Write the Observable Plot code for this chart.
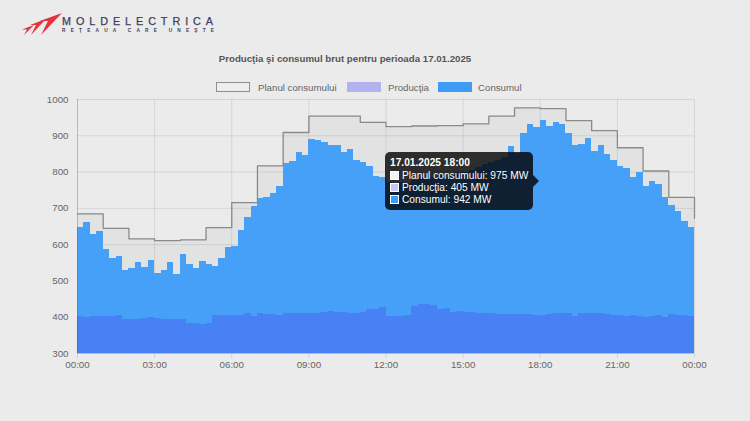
<!DOCTYPE html>
<html><head><meta charset="utf-8">
<script src="https://cdn.jsdelivr.net/npm/d3@7"></script>
<script src="https://cdn.jsdelivr.net/npm/@observablehq/plot@0.6"></script>
<style>
html,body{margin:0;padding:0}
body{background:#ebebeb;width:750px;height:421px;overflow:hidden;font-family:"Liberation Sans",Arial,Helvetica,sans-serif;position:relative}
#logo{position:absolute;left:0;top:0}
#title{position:absolute;left:0;width:690px;top:53px;text-align:center;font-weight:bold;font-size:9.7px;line-height:11px;color:#555}
.lg{position:absolute;top:82px;height:10px;box-sizing:border-box;width:34px}
.lt{position:absolute;top:82px;font-size:9.7px;line-height:11px;color:#666}
#chart{position:absolute;left:0;top:90px}
#tt{position:absolute;left:385px;top:152px;width:148px;height:58px;background:rgba(0,0,0,0.8);border-radius:5px;color:#fff;font-size:10.2px}
#tt .t{position:absolute;left:5px;top:4.5px;font-weight:bold;line-height:12px;white-space:nowrap}
#tt .r{position:absolute;left:17px;line-height:12px;white-space:nowrap}
#tt .b{position:absolute;left:5px;width:9px;height:9px;box-sizing:border-box;border:1px solid #fff}
#caret{position:absolute;left:533px;top:175px;width:0;height:0;border-top:6px solid transparent;border-bottom:6px solid transparent;border-left:6px solid rgba(0,0,0,0.8)}
</style>
</head><body>
<svg id="logo" width="250" height="45">
  <g fill="#e2323d">
    <polygon points="34,25 22,29.5 27,29.5 24,35"/>
    <polygon points="46,19 30,25 36,25 31,35"/>
    <polygon points="62,13 40,21 48,21 41,35"/>
  </g>
  <text x="62" y="25.3" font-size="10.8" fill="#3b3e5e" stroke="#3b3e5e" stroke-width="0.25" font-family="Liberation Sans, Arial" textLength="151" lengthAdjust="spacing">MOLDELECTRICA</text>
  <text x="62" y="31.8" font-size="4.8" font-weight="bold" fill="#3b3e5e" font-family="Liberation Sans, Arial" textLength="152" lengthAdjust="spacing">REŢEAUA CARE UNEŞTE</text>
</svg>
<div id="title"></div>
<div id="legend"></div>
<div id="chart"></div>
<div id="tt"></div>
<div id="caret"></div>
<script>
const titleText = "Producţia şi consumul brut pentru perioada 17.01.2025";
const seriesNames = ["Planul consumului", "Producţia", "Consumul"];
const hourLabels = ["00:00","03:00","06:00","09:00","12:00","15:00","18:00","21:00","00:00"];
const hourTicks = [0,3,6,9,12,15,18,21,24];
const yTicks = [300,400,500,600,700,800,900,1000];

// hourly consumption plan (MW), last value at 24:00
const planConsum = [685,645,616,611,613,647,716,817,909,954,954,937,925,927,928,933,954,977,975,942,914,867,803,730,673];

// 15-minute gross consumption (MW)
const consum = [
 648,662,628,636, 587,561,567,530, 535,551,537,556, 521,528,552,519,
 574,546,535,553, 544,541,561,593, 596,638,674,705, 728,729,741,760,
 824,828,853,847, 890,886,882,872, 874,853,863,831, 827,815,787,785,
 770,766,772,768, 776,782,779,786, 790,786,795,798, 800,805,812,820,
 826,832,840,871, 852,907,931,923, 942,926,937,930, 906,872,876,892,
 858,874,849,831, 815,810,784,799, 760,773,766,729, 707,691,663,648
];

// 15-minute production (MW)
const productie = [
 402,400,401,401, 402,403,404,395, 395,393,397,398, 397,395,393,395,
 393,384,382,379, 383,405,405,405, 406,405,409,403, 409,407,408,406,
 410,409,411,411, 410,411,413,416, 413,413,410,410, 414,420,422,427,
 402,402,402,406, 429,436,434,433, 420,423,413,415, 413,413,411,411,
 409,408,407,407, 408,407,407,405, 405,408,409,411, 409,403,411,411,
 409,411,408,406, 405,402,404,402, 398,402,405,400, 408,404,404,401
];

const colors = {plan:"#8a8a8a", planFill:"rgba(0,0,0,0.035)", prod:"#4781f4", prodLegend:"#b3b2f1", cons:"#47a0f7"};

document.getElementById("title").textContent = titleText;

// legend
const legend = document.getElementById("legend");
const lgItems = [
  {box:216, text:258, bg:"#eeeeee", bd:"#8e8e8e"},
  {box:347, text:388, bg:colors.prodLegend, bd:colors.prodLegend},
  {box:438, text:478, bg:"#3f9cf6", bd:"#3f9cf6"}
];
lgItems.forEach((it,i)=>{
  const b=document.createElement("div"); b.className="lg";
  b.style.left=it.box+"px"; b.style.background=it.bg; b.style.border="1px solid "+it.bd;
  legend.appendChild(b);
  const t=document.createElement("div"); t.className="lt"; t.style.left=it.text+"px"; t.textContent=seriesNames[i];
  legend.appendChild(t);
});

const planData = planConsum.map((v,i)=>({x:i, v}));
const consData = consum.map((v,i)=>({x1:i/4, x2:(i+1)/4, v}));
const prodData = productie.map((v,i)=>({x1:i/4, x2:(i+1)/4, v}));

const chart = Plot.plot({
  width:750, height:290,
  marginLeft:77, marginRight:56, marginTop:9, marginBottom:27,
  style:{background:"transparent", fontFamily:"Liberation Sans, Arial, sans-serif", fontSize:"9.75px", color:"#666"},
  x:{domain:[0,24], label:null},
  y:{domain:[300,1000], label:null},
  marks:[
    Plot.gridX(hourTicks, {stroke:"#000", strokeOpacity:0.09}),
    Plot.gridY(yTicks, {stroke:"#000", strokeOpacity:0.09}),
    Plot.areaY(planData, {x:"x", y1:()=>300, y2:"v", curve:"step-after", fill:colors.planFill}),
    Plot.rect(consData, {x1:"x1", x2:"x2", y1:()=>300, y2:"v", fill:colors.cons, shapeRendering:"crispEdges"}),
    Plot.rect(prodData, {x1:"x1", x2:"x2", y1:()=>300, y2:"v", fill:colors.prod, shapeRendering:"crispEdges"}),
    Plot.line(planData, {x:"x", y:"v", curve:"step-after", stroke:colors.plan, strokeWidth:1.3}),
    Plot.ruleX([0], {stroke:"#000", strokeOpacity:0.12}),
    Plot.ruleY([300], {stroke:"#000", strokeOpacity:0.12}),
    Plot.axisY({ticks:yTicks, tickSize:0, tickPadding:9, fill:"#666", label:null, tickFormat:d=>String(d)}),
    Plot.axisX({ticks:hourTicks, tickSize:5, tickPadding:3, stroke:"#000", strokeOpacity:0.1, fill:"#666", label:null, tickFormat:d=>hourLabels[hourTicks.indexOf(d)]})
  ]
});
document.getElementById("chart").appendChild(chart);

// tooltip at 18:00
const hi = 18, qi = 72;
const tt = document.getElementById("tt");
const tRows = [
  {name:seriesNames[0], val:planConsum[hi], bg:"#f4f4f4"},
  {name:seriesNames[1], val:productie[qi], bg:"#c9c6fa"},
  {name:seriesNames[2], val:consum[qi], bg:"#3f9cf6"}
];
let html = `<div class="t">17.01.2025 ${hourLabels[6]}</div>`;
tRows.forEach((r,i)=>{
  const top = 17.5 + 12*i;
  html += `<div class="b" style="top:${top+1.7}px;background:${r.bg}"></div><div class="r" style="top:${top}px">${r.name}: ${r.val} MW</div>`;
});
tt.innerHTML = html;
</script>
</body></html>
